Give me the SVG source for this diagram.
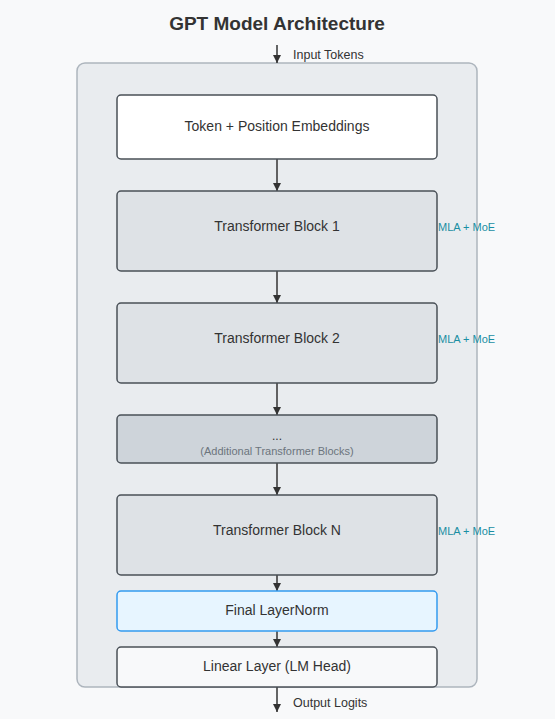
<svg xmlns="http://www.w3.org/2000/svg" width="555" height="719" viewBox="0 0 555 719">
<defs>
<marker id="arr" viewBox="0 0 10 10" refX="10" refY="5" markerWidth="8" markerHeight="8" markerUnits="userSpaceOnUse" orient="auto">
<path d="M0,0 L10,5 L0,10 z" fill="#333"/>
</marker>
</defs>
<style>
text{font-family:"Liberation Sans",Arial,sans-serif;fill:#333}
.title{font-size:19px;font-weight:bold}
.lbl{font-size:14px;text-anchor:middle}
.io{font-size:12.5px}
.sub{font-size:11px;fill:#6c757d;text-anchor:middle}
.tag{font-size:11px;fill:#1a8fa3}
.node{stroke:#495057;stroke-width:1.5}
.edge{stroke:#333;stroke-width:1.5;fill:none;marker-end:url(#arr)}
</style>
<rect width="555" height="719" fill="#f8f9fa"/>
<text class="title" x="277" y="30" text-anchor="middle">GPT Model Architecture</text>
<rect id="container" x="77" y="63" width="400" height="624" rx="8" fill="#e9ecef" stroke="#adb5bd" stroke-width="1.5"/>
<g id="connectors">
<line class="edge" x1="277" y1="45" x2="277" y2="63"/>
<line class="edge" x1="277" y1="159" x2="277" y2="191"/>
<line class="edge" x1="277" y1="271" x2="277" y2="303"/>
<line class="edge" x1="277" y1="383" x2="277" y2="415"/>
<line class="edge" x1="277" y1="463" x2="277" y2="495"/>
<line class="edge" x1="277" y1="575" x2="277" y2="591"/>
<line class="edge" x1="277" y1="631" x2="277" y2="647"/>
<line class="edge" x1="277" y1="687" x2="277" y2="712"/>
</g>
<text class="io" x="293" y="59">Input Tokens</text>
<text class="io" x="293" y="707">Output Logits</text>
<g id="embeddings">
<rect class="node" x="117" y="95" width="320" height="64" rx="4" fill="#ffffff"/>
<text class="lbl" x="277" y="131">Token + Position Embeddings</text>
</g>
<g id="block1">
<rect class="node" x="117" y="191" width="320" height="80" rx="4" fill="#dee2e6"/>
<text class="lbl" x="277" y="231">Transformer Block 1</text>
<text class="tag" x="438" y="231">MLA + MoE</text>
</g>
<g id="block2">
<rect class="node" x="117" y="303" width="320" height="80" rx="4" fill="#dee2e6"/>
<text class="lbl" x="277" y="343">Transformer Block 2</text>
<text class="tag" x="438" y="343">MLA + MoE</text>
</g>
<g id="ellipsis">
<rect class="node" x="117" y="415" width="320" height="48" rx="4" fill="#ced4da"/>
<text class="lbl" x="277" y="440" style="font-size:12px">...</text>
<text class="sub" x="277" y="455">(Additional Transformer Blocks)</text>
</g>
<g id="blockN">
<rect class="node" x="117" y="495" width="320" height="80" rx="4" fill="#dee2e6"/>
<text class="lbl" x="277" y="535">Transformer Block N</text>
<text class="tag" x="438" y="535">MLA + MoE</text>
</g>
<g id="layernorm">
<rect x="117" y="591" width="320" height="40" rx="4" fill="#e7f5ff" stroke="#339af0" stroke-width="1.5"/>
<text class="lbl" x="277" y="615">Final LayerNorm</text>
</g>
<g id="lmhead">
<rect class="node" x="117" y="647" width="320" height="40" rx="4" fill="#f8f9fa"/>
<text class="lbl" x="277" y="671">Linear Layer (LM Head)</text>
</g>
</svg>
